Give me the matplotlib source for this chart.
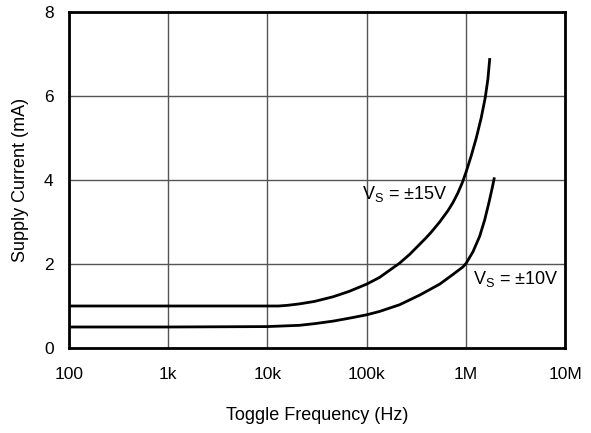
import matplotlib
matplotlib.use("Agg")
import matplotlib.pyplot as plt

plt.rcParams['font.family'] = ['Liberation Sans', 'DejaVu Sans']

freq_15 = [100, 1000, 10000, 13000, 15800, 21000, 30000, 46000, 67000, 100000,
           135000, 215000, 272000, 400000, 449000, 545000, 661000, 741000,
           832000, 923000, 1010000, 1135000, 1275000, 1430000, 1570000,
           1670000, 1740000]
curr_15 = [1.0, 1.0, 1.0, 1.0, 1.015, 1.05, 1.11, 1.22, 1.35, 1.52,
           1.68, 2.02, 2.23, 2.63, 2.76, 3.00, 3.27, 3.46,
           3.69, 3.94, 4.20, 4.58, 5.00, 5.48, 5.96,
           6.40, 6.87]

freq_10 = [100, 1000, 10000, 21000, 30000, 46000, 67000, 100000, 135000, 215000,
           343000, 545000, 741000, 935000, 1010000, 1180000, 1380000, 1550000,
           1710000, 1850000, 1930000]
curr_10 = [0.5, 0.5, 0.51, 0.54, 0.58, 0.64, 0.71, 0.79, 0.87, 1.03,
           1.26, 1.52, 1.75, 1.93, 2.02, 2.29, 2.66, 3.05,
           3.46, 3.82, 4.03]

x_ticks = [100, 1e3, 1e4, 1e5, 1e6, 1e7]
x_labels = ['100', '1k', '10k', '100k', '1M', '10M']
y_ticks = [0, 2, 4, 6, 8]

fig = plt.figure(figsize=(5.91, 4.33), dpi=100)
ax = fig.add_axes([69/591, 1-348/433, (565-69)/591, (348-12)/433])

ax.plot(freq_15, curr_15, color='black', lw=2.0, solid_joinstyle='round', zorder=3)
ax.plot(freq_10, curr_10, color='black', lw=2.0, solid_joinstyle='round', zorder=3)

ax.set_xscale('log')
ax.set_xlim(100, 1e7)
ax.set_ylim(0, 8)
ax.set_xticks(x_ticks)
ax.set_xticklabels(x_labels)
ax.set_xticks([], minor=True)
ax.set_yticks(y_ticks)
ax.tick_params(axis='both', length=0, labelsize=12.5)
ax.tick_params(axis='x', pad=14)
ax.tick_params(axis='y', pad=11)
ax.grid(True, color='#555555', lw=1.0, zorder=1)
for s in ax.spines.values():
    s.set_linewidth(2.0)
    s.set_color('black')
    s.set_zorder(4)

def px_to_data(px, py):
    return 10 ** (2 + (px - 69) / 99.3), (348 - py) / 42.0

x1, y1 = px_to_data(362, 199)
ax.text(x1, y1, r'V$_\mathregular{S}$ = ±15V', fontsize=13, ha='left', va='baseline')
x2, y2 = px_to_data(473, 284)
ax.text(x2, y2, r'V$_\mathregular{S}$ = ±10V', fontsize=13, ha='left', va='baseline')

fig.text(21/591, 1-180/433, 'Supply Current (mA)', fontsize=13, rotation=90,
         ha='center', va='center')
fig.text(317/591, 1-416/433, 'Toggle Frequency (Hz)', fontsize=13, ha='center', va='center')

fig.savefig('out.png', dpi=100)
